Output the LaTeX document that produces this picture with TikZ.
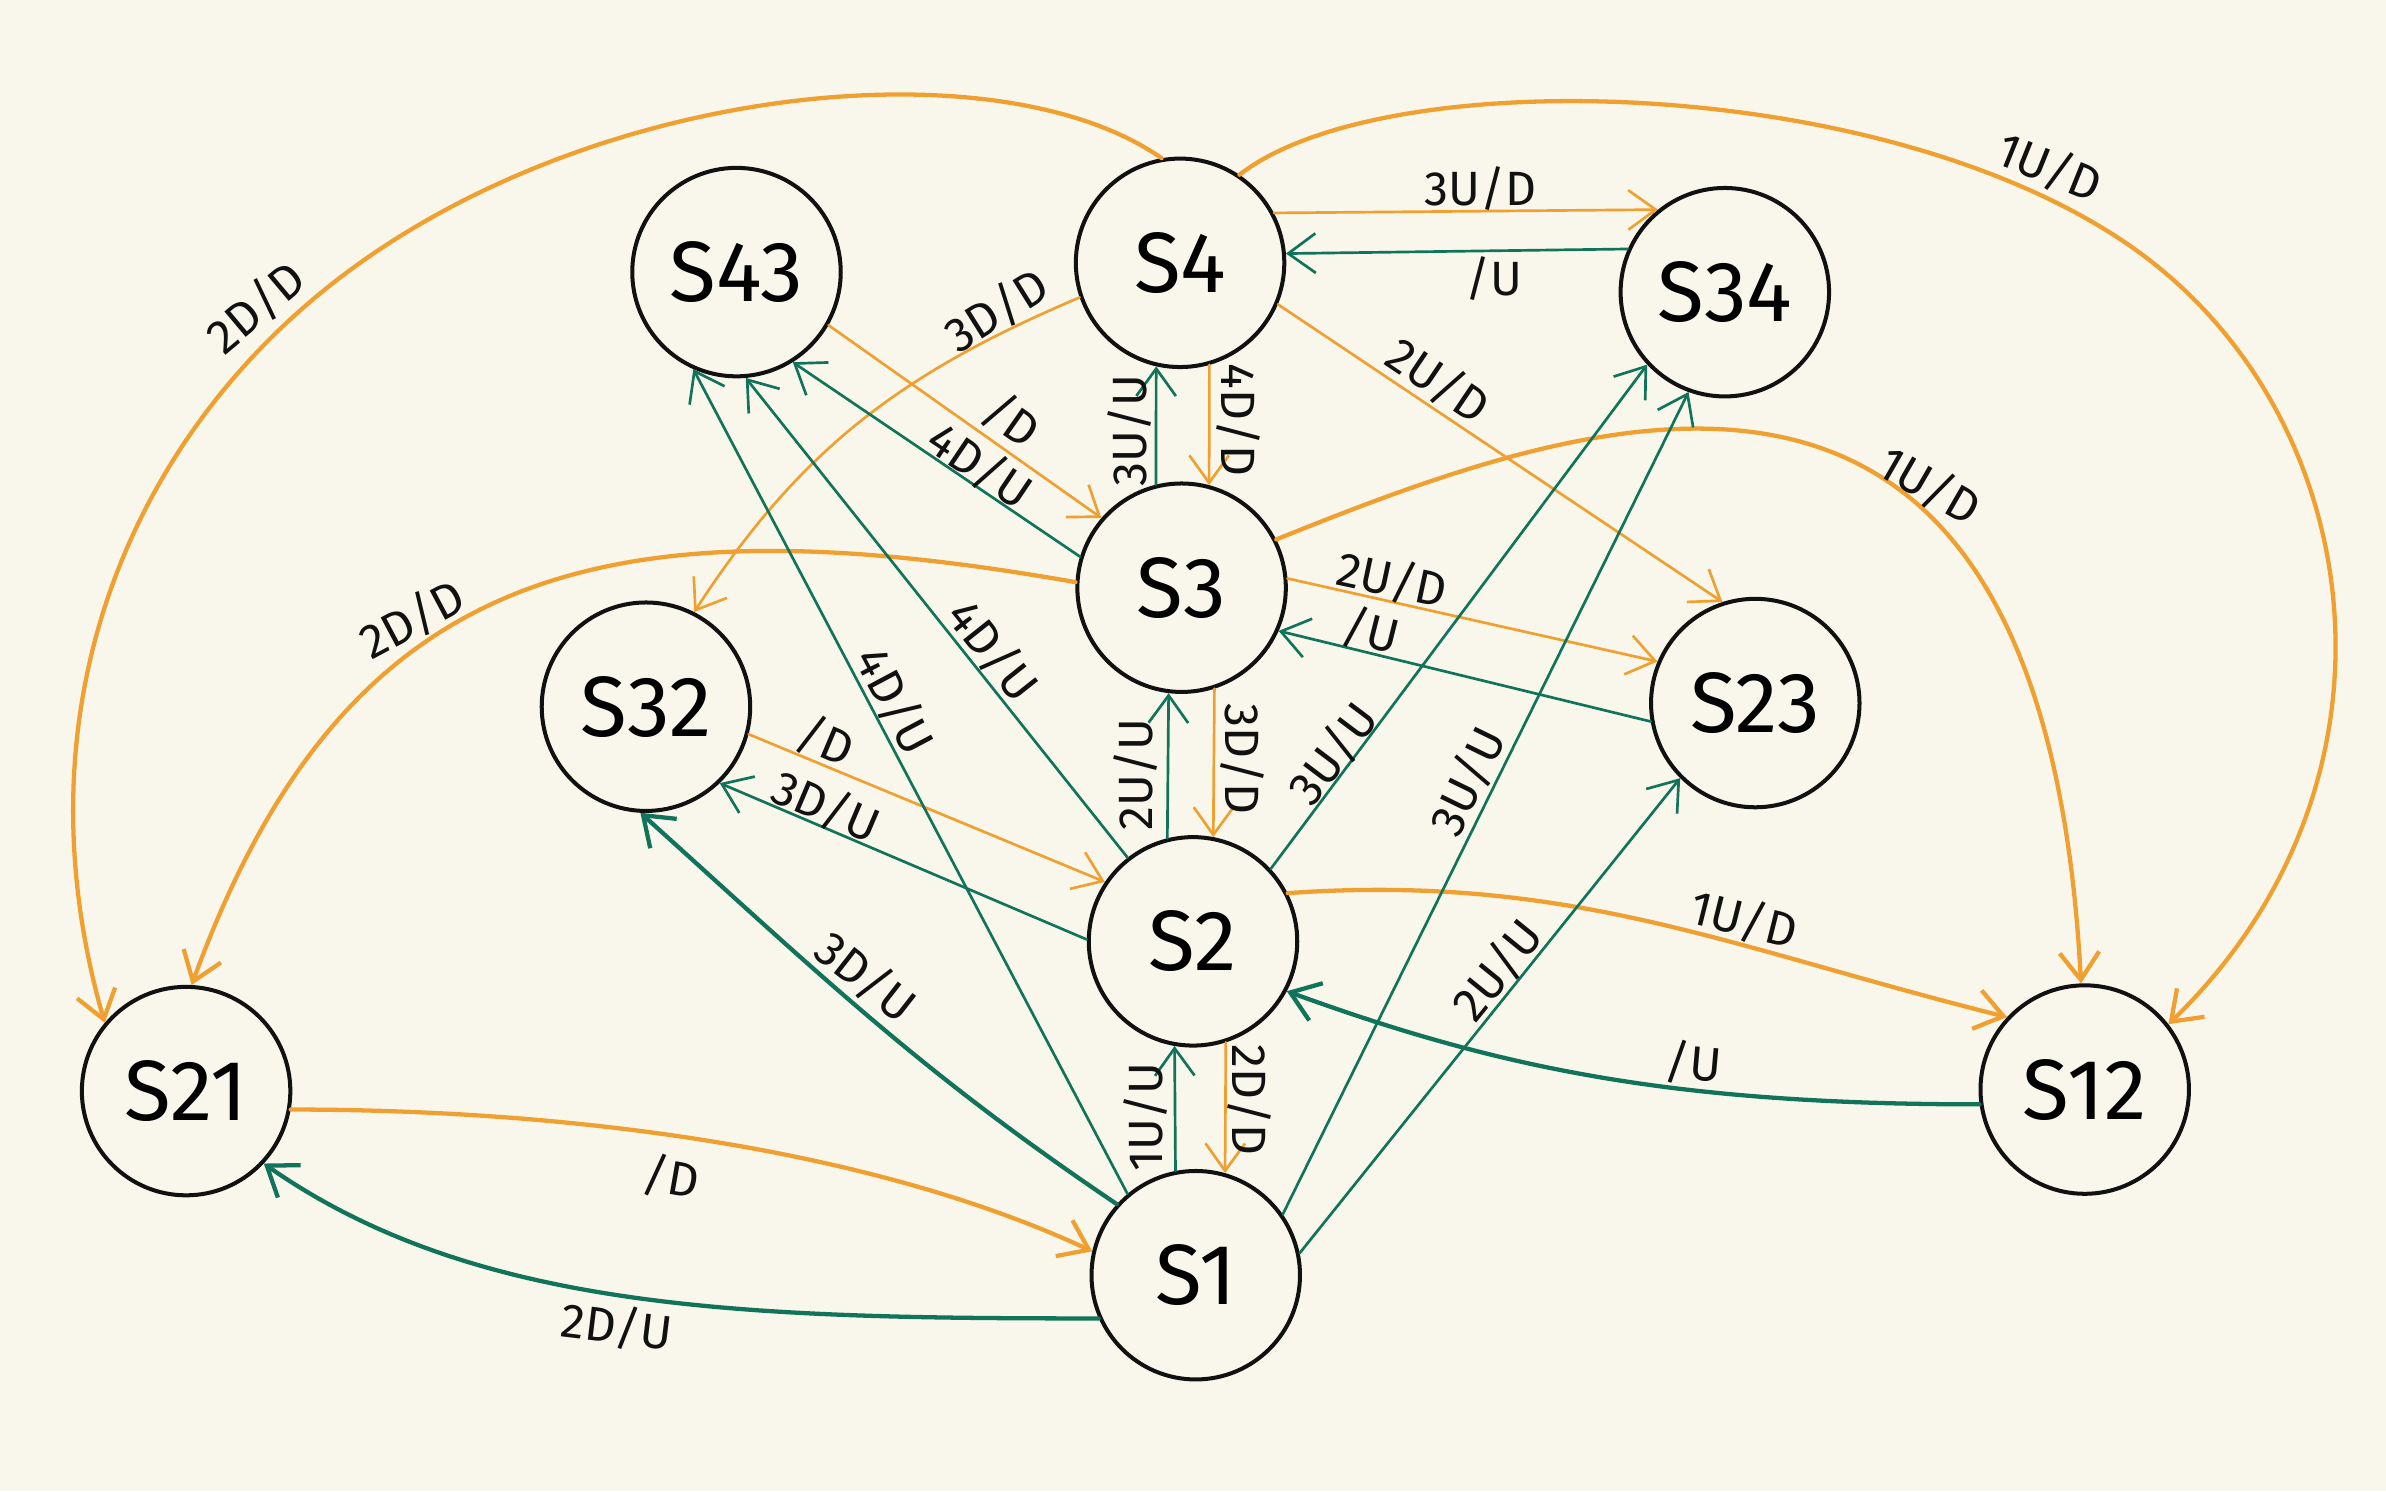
\documentclass[tikz,border=0pt]{standalone}
\usepackage{fontspec}
\setmainfont{Fira Sans}
\usepackage{tikz}
\usetikzlibrary{arrows.meta}
\definecolor{bg}{HTML}{F9F7EB}
\definecolor{ink}{HTML}{111111}
\definecolor{orng}{HTML}{F0A030}
\definecolor{grn}{HTML}{10735A}
\tikzset{
  state/.style={circle, draw=ink, line width=0.75pt, fill=bg, minimum size=1.37cm, inner sep=0pt, font=\fontsize{16}{16}\selectfont},
  barb/.style={-{Straight Barb[length=1.8mm,width=2.6mm]}},
  dn/.style={draw=orng, line width=0.5pt, line cap=round, barb},
  up/.style={draw=grn, line width=0.5pt, line cap=round, barb},
  heavy/.style={line width=0.8pt},
  lab/.style={text=ink, font=\fontsize{9}{9}\selectfont, inner sep=0pt},
}

\begin{document}
\begin{tikzpicture}
  \useasboundingbox (0,0) rectangle (15.68,-9.80);
  \fill[bg] (0,0) rectangle (15.68,-9.80);
  % states
  \node[state] (S4)  at (7.755,-1.727) {S4};
  \node[state] (S43) at (4.840,-1.788) {S43};
  \node[state] (S34) at (11.335,-1.920) {S34};
  \node[state] (S3)  at (7.765,-3.862) {S3};
  \node[state] (S32) at (4.245,-4.644) {S32};
  \node[state] (S23) at (11.535,-4.620) {S23};
  \node[state] (S2)  at (7.840,-6.186) {S2};
  \node[state] (S21) at (1.223,-7.170) {S21};
  \node[state] (S12) at (13.700,-7.160) {S12};
  \node[state] (S1)  at (7.858,-8.380) {S1};
  % bend points of the two long arcs
  \coordinate (bendA) at (2.26,-1.805);
  \coordinate (bendB) at (14.01,-1.624);
  % down moves
  \draw[dn, heavy] (S4.100) to[out=145, in=37, out distance=1.3cm, in distance=2.1cm] (bendA)
    to[out=217, in=106, out distance=1.7cm, in distance=2.2cm] (S21.140);
  \draw[dn, heavy] (S4.56) to[out=38, in=145, out distance=1.2cm, in distance=2cm] (bendB)
    to[out=-35, in=44, out distance=1.9cm, in distance=2.3cm] (S12.38);
  \draw[dn] (S4.28) -- (S34.129);
  \draw[dn] (S4.-23) -- (S23.108);
  \draw[dn] (S4.-74) -- (S3.75);
  \draw[dn] (S4.199) to[out=203, in=57] (S32.63);
  \draw[dn] (S43.-30) -- (S3.139);
  \draw[dn, heavy] (S3.177) to[out=170, in=70, out distance=3.2cm, in distance=2.9cm] (S21.87);
  \draw[dn, heavy] (S3.27) to[out=22, in=93, out distance=2.3cm, in distance=4.8cm] (S12.92);
  \draw[dn] (S3.5) -- (S23.157);
  \draw[dn] (S3.-72) -- (S2.79);
  \draw[dn] (S32.-15) -- (S2.146);
  \draw[dn, heavy] (S2.27) to[out=4, in=166] (S12.137);
  \draw[dn] (S2.-72) -- (S1.74);
  \draw[dn, heavy] (S21.-10) to[out=0, in=155, out distance=2cm, in distance=1.5cm] (S1.167);
  % up moves
  \draw[up] (S34.156) -- (S4.5);
  \draw[up] (S3.104) -- (S4.-103);
  \draw[up] (S3.163) -- (S43.-58);
  \draw[up] (S2.128) -- (S43.-85);
  \draw[up] (S1.130) -- (S43.-114);
  \draw[up] (S2.179) -- (S32.-46);
  \draw[up, heavy] (S1.138) to[out=146, in=-42] (S32.-93);
  \draw[up] (S2.104) -- (S3.-97);
  \draw[up] (S2.43) -- (S34.-137);
  \draw[up] (S1.35) -- (S34.-110);
  \draw[up] (S23.190) -- (S3.-24);
  \draw[up] (S1.12) -- (S23.-135);
  \draw[up, heavy] (S12.188) to[out=180, in=-20, out distance=2cm, in distance=1.5cm] (S2.-28);
  \draw[up] (S1.101) -- (S2.-100);
  \draw[up, heavy] (S1.204) to[out=180, in=-35, out distance=2.3cm, in distance=1.7cm] (S21.-43);
  % labels
  \node[lab, rotate=40]    (l1)  at (1.68,-2.02)   {2D/D};
  \node[lab, rotate=-22]   (l2)  at (13.47,-1.10)  {1U/D};
  \node[lab]               (l3)  at (9.73,-1.24)   {3U/D};
  \node[lab, rotate=-34]   (l4)  at (9.45,-2.50)   {2U/D};
  \node[lab, rotate=-90]   (l5)  at (8.14,-2.76)   {4D/D};
  \node[lab, rotate=32]    (l6)  at (6.55,-2.04)   {3D/D};
  \node[lab, rotate=-35]   (l7)  at (6.65,-2.76)   {/D};
  \node[lab, rotate=28]    (l8)  at (2.71,-4.07)   {2D/D};
  \node[lab, rotate=-30]   (l9)  at (12.68,-3.19)  {1U/D};
  \node[lab, rotate=-12]   (l10) at (9.15,-3.81)   {2U/D};
  \node[lab, rotate=-90]   (l11) at (8.165,-4.99)  {3D/D};
  \node[lab, rotate=-23]   (l12) at (5.43,-4.87)   {/D};
  \node[lab, rotate=-14]   (l13) at (11.46,-6.04)  {1U/D};
  \node[lab, rotate=-90]   (l14) at (8.21,-7.23)   {2D/D};
  \node[lab, rotate=-10]   (l15) at (4.41,-7.74)   {/D};
  \node[lab]               (l16) at (9.82,-1.83)   {/U};
  \node[lab, rotate=90]    (l17) at (7.42,-2.83)   {3U/U};
  \node[lab, rotate=-34]   (l18) at (6.44,-3.06)   {4D/U};
  \node[lab, rotate=-51.5] (l19) at (6.525,-4.275) {4D/U};
  \node[lab, rotate=-62]   (l20) at (5.88,-4.606)  {4D/U};
  \node[lab, rotate=-23]   (l21) at (5.43,-5.30)   {3D/U};
  \node[lab, rotate=-38]   (l22) at (5.69,-6.42)   {3D/U};
  \node[lab, rotate=90]    (l23) at (7.46,-5.09)   {2U/U};
  \node[lab, rotate=53]    (l24) at (8.76,-4.95)   {3U/U};
  \node[lab, rotate=64]    (l25) at (9.645,-5.135) {3U/U};
  \node[lab, rotate=-14]   (l26) at (9.01,-4.145)  {/U};
  \node[lab, rotate=51]    (l27) at (9.84,-6.375)  {2U/U};
  \node[lab, rotate=-5]    (l28) at (11.13,-6.985) {/U};
  \node[lab, rotate=90]    (l29) at (7.53,-7.34)   {1U/U};
  \node[lab, rotate=-7]    (l30) at (4.055,-8.716) {2D/U};
\end{tikzpicture}
\end{document}
